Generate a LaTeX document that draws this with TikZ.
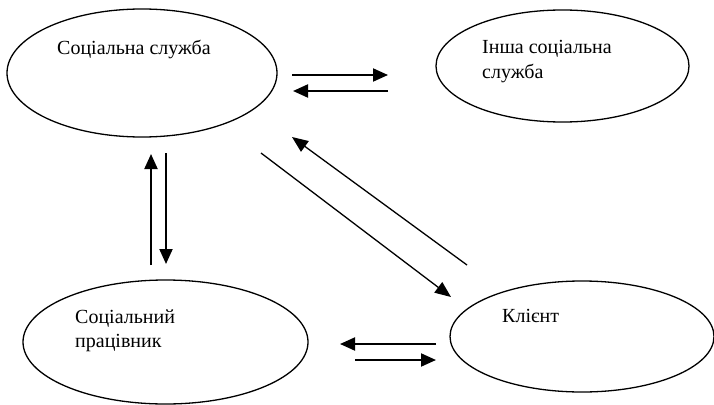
\documentclass[tikz,border=0pt]{standalone}
\usepackage{fontspec}
\setmainfont{Liberation Serif}
\usetikzlibrary{shapes.geometric,arrows.meta}
\begin{document}
\begin{tikzpicture}[x=1pt,y=-1pt,
  ell/.style={draw,ellipse,line width=1.3pt,inner sep=0pt},
  lbl/.style={font=\fontsize{20}{25}\selectfont,inner sep=0pt,anchor=base west,align=left},
  thick arrow/.style={line width=2pt,-{Triangle[length=15pt,width=13pt]}},
  thin arrow/.style={line width=1.3pt,-{Triangle[length=16pt,width=13pt]}}]
\useasboundingbox (0,0) rectangle (714,404);
% ellipses
\node[ell,minimum width=270pt,minimum height=128pt] (ss) at (142,73) {};
\node[ell,minimum width=253pt,minimum height=112pt] (is) at (562.5,66) {};
\node[ell,minimum width=285pt,minimum height=124pt] (sp) at (165.5,342) {};
\node[ell,minimum width=264pt,minimum height=111pt] (kl) at (582,336.5) {};
% labels
\node[lbl] (sst) at (57,55) {Соціальна служба};
\node[lbl] (ist) at (482,53) {Інша соціальна};
\node[lbl] (ist2) at (482,78) {служба};
\node[lbl] (spt) at (75,323) {Соціальний};
\node[lbl] (spt2) at (75,347) {працівник};
\node[lbl] (klt) at (502,322) {Клієнт};
% arrow end points
\coordinate (a1s) at (292,75);  \coordinate (a1e) at (388,75);
\coordinate (a2s) at (388,91);  \coordinate (a2e) at (293,91);
\coordinate (a3s) at (151,265); \coordinate (a3e) at (151,154);
\coordinate (a4s) at (166,153); \coordinate (a4e) at (166,264);
\coordinate (a5s) at (261,153); \coordinate (a5e) at (451,297);
\coordinate (a6s) at (467,265); \coordinate (a6e) at (292,137);
\coordinate (a7s) at (436,344); \coordinate (a7e) at (340,344);
\coordinate (a8s) at (355,360); \coordinate (a8e) at (436,360);
% arrows
\draw[thick arrow] (a1s) -- (a1e);
\draw[thick arrow] (a2s) -- (a2e);
\draw[thick arrow] (a3s) -- (a3e);
\draw[thick arrow] (a4s) -- (a4e);
\draw[thin arrow] (a5s) -- (a5e);
\draw[thin arrow] (a6s) -- (a6e);
\draw[thick arrow] (a7s) -- (a7e);
\draw[thick arrow] (a8s) -- (a8e);
\end{tikzpicture}
\end{document}
